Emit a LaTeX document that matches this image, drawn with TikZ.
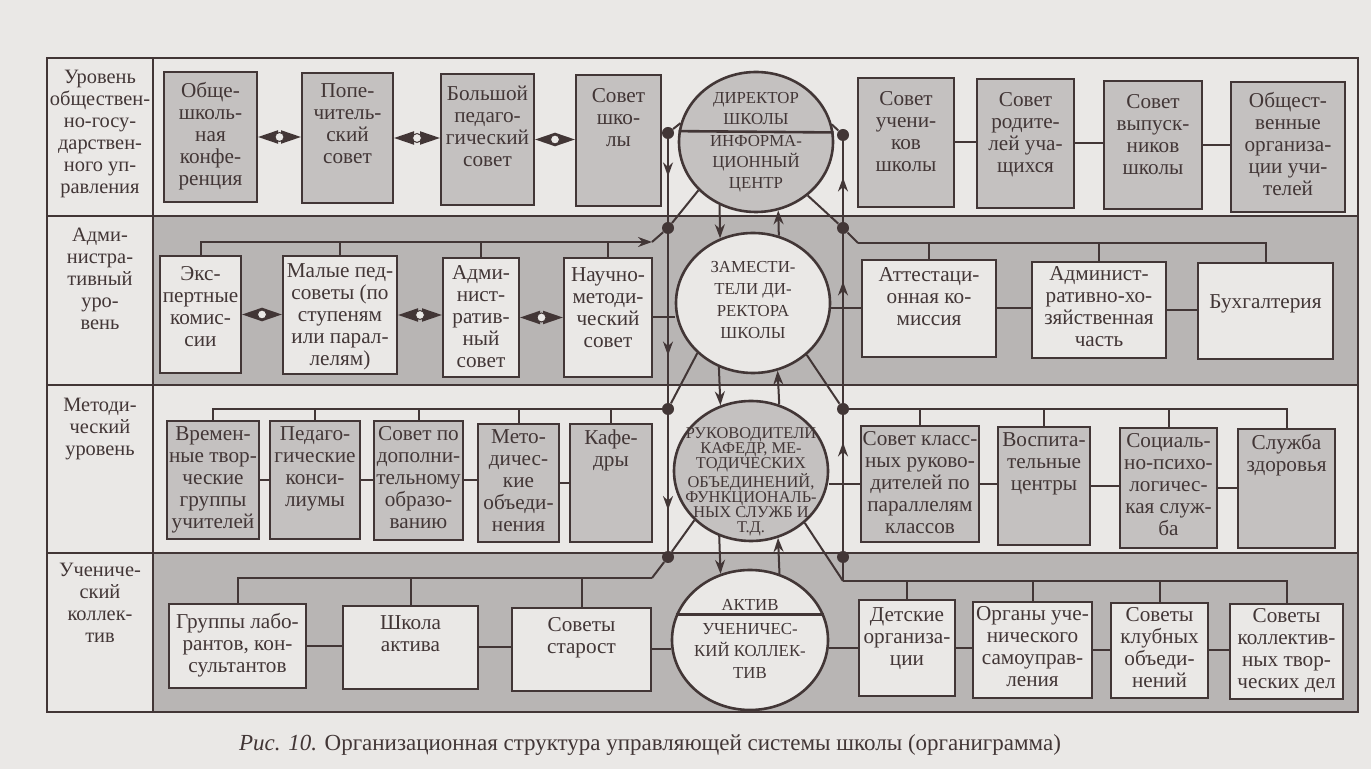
\documentclass[tikz,border=0pt]{standalone}
\usepackage{fontspec}
\setmainfont{Liberation Serif}
\usetikzlibrary{arrows.meta,decorations.markings,shapes.geometric}

\definecolor{paper}{RGB}{234,232,230}
\definecolor{band}{RGB}{184,181,180}
\definecolor{boxgray}{RGB}{196,193,192}
\definecolor{ink}{RGB}{66,54,54}

\begin{document}
\begin{tikzpicture}[x=0.5pt,y=-0.5pt,
	frm/.style={draw=ink,line width=1.1pt},
	gbox/.style={draw=ink,line width=1pt,fill=boxgray,inner sep=0pt},
	lbox/.style={draw=ink,line width=1pt,fill=paper,inner sep=0pt},
	sz/.style 2 args={minimum width=#1pt,minimum height=#2pt},
	intxt/.style={anchor=north,align=center,inner sep=4pt,text=ink,font=\fontsize{10.6}{11}\selectfont},
	lvl/.style={anchor=north,align=center,inner sep=0pt,text=ink,font=\fontsize{10.2}{11}\selectfont},
	ell/.style={ellipse,draw=ink,line width=1.3pt,inner sep=0pt,minimum width=77pt,minimum height=70pt},
	ctxt/.style={align=center,inner sep=0pt,text=ink,font=\fontsize{8.4}{10.5}\selectfont},
	jdot/.style={circle,fill=ink,inner sep=0pt,minimum size=6pt},
	con/.style={draw=ink,line width=1pt},
	arr/.style={-{Stealth[length=7pt,width=5pt]}},
	midarr/.style={postaction={decorate},decoration={markings,mark=at position #1 with {\arrow{Stealth[length=7pt,width=5pt]}}}},
	dbl/.style={draw=ink,line width=1pt,{Triangle[length=10pt,width=6.5pt]}-{Triangle[length=10pt,width=6.5pt]}},
	hub/.style={circle,draw=ink,fill=paper,line width=0.5pt,inner sep=0pt,minimum size=4.5pt},
	capt/.style={text=ink,inner sep=0pt,font=\fontsize{11.5}{13}\selectfont}]

	\useasboundingbox (0,0) rectangle (1371,769);
	\fill[paper] (0,0) rectangle (1371,769);

	% bands and grid
	\fill[band] (153,216) rectangle (1358,385);
	\fill[band] (153,553) rectangle (1358,712);
	\draw[frm] (47,58) rectangle (1358,712);
	\draw[frm] (153,58) -- (153,712);
	\draw[frm] (47,216) -- (1358,216);
	\draw[frm] (47,385) -- (1358,385);
	\draw[frm] (47,553) -- (1358,553);

	% level names
	\node[lvl] (lev1) at (100,70) {Уровень\\обществен-\\но-госу-\\дарствен-\\ного уп-\\равления};
	\node[lvl] (lev2) at (100,228) {Адми-\\нистра-\\тивный\\уро-\\вень};
	\node[lvl] (lev3) at (100,398) {Методи-\\ческий\\уровень};
	\node[lvl] (lev4) at (100,563) {Учениче-\\ский\\коллек-\\тив};

	% row 1
	\node[gbox,sz={46.5}{65},label={[intxt,inner sep=5.5pt]north:{Обще-\\школь-\\ная\\конфе-\\ренция}}] (obshk) at (210.5,137) {};
	\node[gbox,sz={45.5}{65},label={[intxt,inner sep=5.5pt]north:{Попе-\\читель-\\ский\\совет}}] (popech) at (347.5,138) {};
	\node[gbox,sz={46.5}{65.5},label={[intxt,inner sep=6.5pt]north:{Большой\\педаго-\\гический\\совет}}] (bpedsov) at (487.5,139.5) {};
	\node[gbox,sz={42.5}{65.5},label={[intxt,inner sep=7pt]north:{Совет\\шко-\\лы}}] (sovsh) at (618.5,140.5) {};
	\node[gbox,sz={48}{64.5},label={[intxt,inner sep=7pt]north:{Совет\\учени-\\ков\\школы}}] (sovuch) at (906,142.5) {};
	\node[gbox,sz={48.5}{64.5},label={[intxt,inner sep=7pt]north:{Совет\\родите-\\лей уча-\\щихся}}] (sovrod) at (1025.5,143.5) {};
	\node[gbox,sz={49}{64},label={[intxt,inner sep=7pt]north:{Совет\\выпуск-\\ников\\школы}}] (sovvyp) at (1153,145) {};
	\node[gbox,sz={57}{65},label={[intxt,inner sep=5.5pt]north:{Общест-\\венные\\организа-\\ции учи-\\телей}}] (obschorg) at (1288,147) {};

	% row 2
	\node[lbox,sz={40.5}{58.5},label={[intxt,inner sep=5.5pt]north:{Экс-\\пертные\\комис-\\сии}}] (ekspert) at (200.5,314.5) {};
	\node[lbox,sz={57}{59},label={[intxt]north:{Малые пед-\\советы (по\\ступеням\\или парал-\\лелям)}}] (maly) at (340,315) {};
	\node[lbox,sz={38}{59.5},label={[intxt]north:{Адми-\\нист-\\ратив-\\ный\\совет}}] (admsov) at (481,317.5) {};
	\node[lbox,sz={44}{59.5},label={[intxt,inner sep=5pt]north:{Научно-\\методи-\\ческий\\совет}}] (nauch) at (608,317.5) {};
	\node[lbox,sz={67}{48.5},label={[intxt]north:{Аттестаци-\\онная ко-\\миссия}}] (attest) at (929,308.5) {};
	\node[lbox,sz={67}{48},label={[intxt,inner sep=2.5pt]north:{Админист-\\ративно-хо-\\зяйственная\\часть}}] (admhoz) at (1099,310) {};
	\node[lbox,sz={67.5}{48},label={[intxt,yshift=-12pt]north:{Бухгалтерия}}] (buh) at (1265.5,311) {};

	% row 3
	\node[gbox,sz={46}{59},label={[intxt,inner sep=3pt]north:{Времен-\\ные твор-\\ческие\\группы\\учителей}}] (vrem) at (213,480) {};
	\node[gbox,sz={45}{59},label={[intxt,inner sep=3pt]north:{Педаго-\\гические\\конси-\\лиумы}}] (pedkons) at (315,480) {};
	\node[gbox,sz={44.5}{59.5},label={[intxt,inner sep=3pt]north:{Совет по\\дополни-\\тельному\\образо-\\ванию}}] (dopobr) at (418.5,480.5) {};
	\node[gbox,sz={40.5}{59},label={[intxt,inner sep=3pt]north:{Мето-\\дичес-\\кие\\объеди-\\нения}}] (metobj) at (518.5,483) {};
	\node[gbox,sz={41}{59},label={[intxt,inner sep=3pt]north:{Кафе-\\дры}}] (kafedry) at (611,483) {};
	\node[gbox,sz={59}{58},label={[intxt,inner sep=3pt]north:{Совет класс-\\ных руково-\\дителей по\\параллелям\\классов}}] (klass) at (920,484) {};
	\node[gbox,sz={46}{59},label={[intxt,inner sep=3pt]north:{Воспита-\\тельные\\центры}}] (vosp) at (1044,486) {};
	\node[gbox,sz={48.5}{60},label={[intxt,inner sep=3pt]north:{Социаль-\\но-психо-\\логичес-\\кая служ-\\ба}}] (socpsy) at (1168.5,488) {};
	\node[gbox,sz={48.5}{59.5},label={[intxt,inner sep=3pt]north:{Служба\\здоровья}}] (zdorov) at (1286.5,488.5) {};

	% row 4
	\node[lbox,sz={68.5}{42},label={[intxt,inner sep=5pt]north:{Группы лабо-\\рантов, кон-\\сультантов}}] (grlab) at (237.5,646) {};
	\node[lbox,sz={67.5}{41.5},label={[intxt,inner sep=5pt]north:{Школа\\актива}}] (shkakt) at (410.5,647.5) {};
	\node[lbox,sz={69.5}{41.5},label={[intxt,inner sep=5pt]north:{Советы\\старост}}] (starost) at (581.5,649.5) {};
	\node[lbox,sz={48}{48},label={[intxt]north:{Детские\\организа-\\ции}}] (detorg) at (907,648) {};
	\node[lbox,sz={59.5}{48},label={[intxt,inner sep=2.5pt]north:{Органы уче-\\нического\\самоуправ-\\ления}}] (organ) at (1032.5,650) {};
	\node[lbox,sz={48.5}{47.5},label={[intxt,inner sep=2.5pt]north:{Советы\\клубных\\объеди-\\нений}}] (klub) at (1159.5,650.5) {};
	\node[lbox,sz={56.5}{47.5},label={[intxt,inner sep=2.5pt]north:{Советы\\коллектив-\\ных твор-\\ческих дел}}] (kollekt) at (1286.5,651.5) {};

	% the four circles
	\node[ell,fill=boxgray] (dir) at (756,142) {};
	\node[ell,fill=paper] (zam) at (753,303) {};
	\node[ell,fill=boxgray] (ruk) at (751,471) {};
	\node[ell,fill=paper,minimum width=78pt] (aktiv) at (750,640) {};
	\draw[ink,line width=1.3pt] (dir.172.5) -- (dir.7.5);
	\draw[ink,line width=1.3pt] (aktiv.161) -- (aktiv.19);

	\node[ctxt] (dirtop) at (756,109) {ДИРЕКТОР\\ШКОЛЫ};
	\node[ctxt] (dirbot) at (756,164) {ИНФОРМА-\\ЦИОННЫЙ\\ЦЕНТР};
	\node[ctxt,font=\fontsize{8.4}{11}\selectfont] (zamtxt) at (753,300) {ЗАМЕСТИ-\\ТЕЛИ ДИ-\\РЕКТОРА\\ШКОЛЫ};
	\node[ctxt,font=\fontsize{8.2}{7.4}\selectfont] (ruktxt) at (751,482) {РУКОВОДИТЕЛИ\\КАФЕДР, МЕ-\\ТОДИЧЕСКИХ\\ОБЪЕДИНЕНИЙ,\\ФУНКЦИОНАЛЬ-\\НЫХ СЛУЖБ И\\Т.Д.};
	\node[ctxt] (akttop) at (750,605) {АКТИВ};
	\node[ctxt,font=\fontsize{8.4}{11}\selectfont] (aktbot) at (750,651) {УЧЕНИЧЕС-\\КИЙ КОЛЛЕК-\\ТИВ};

	% junction dots
	\node[jdot] (dot1l) at (668,133) {};
	\node[jdot] (dot1r) at (843,135) {};
	\node[jdot] (dot2l) at (668,228) {};
	\node[jdot] (dot2r) at (843,228) {};
	\node[jdot] (dot3l) at (668,409) {};
	\node[jdot] (dot3r) at (843,409) {};
	\node[jdot] (dot4l) at (668,557) {};
	\node[jdot] (dot4r) at (843,557) {};
	\coordinate (bus2l) at (652,242);
	\coordinate (bus2r) at (858,243);
	\coordinate (bus4l) at (652,578);
	\coordinate (bus4r) at (843,581);

	% double links
	\draw[dbl] (obshk.east) -- (obshk.east -| popech.west) node[midway,hub] {};
	\draw[dbl] (popech.east) -- (popech.east -| bpedsov.west) node[midway,hub] {};
	\draw[dbl] (bpedsov.east) -- (bpedsov.east -| sovsh.west) node[midway,hub] {};
	\draw[dbl] (ekspert.east) -- (ekspert.east -| maly.west) node[midway,hub] {};
	\draw[dbl] (maly.east) -- (maly.east -| admsov.west) node[midway,hub] {};
	\draw[dbl] (admsov.east) -- (admsov.east -| nauch.west) node[midway,hub] {};

	% plain links
	\draw[con] (sovuch.east) -- (sovuch.east -| sovrod.west);
	\draw[con] (sovrod.east) -- (sovrod.east -| sovvyp.west);
	\draw[con] (sovvyp.east) -- (sovvyp.east -| obschorg.west);
	\draw[con] (nauch.east) -- (nauch.east -| zam.west);
	\draw[con] (attest.west) -- (attest.west -| zam.east);
	\draw[con] (attest.east) -- (attest.east -| admhoz.west);
	\draw[con] (admhoz.east) -- (admhoz.east -| buh.west);
	\draw[con] (vrem.east) -- (vrem.east -| pedkons.west);
	\draw[con] (pedkons.east) -- (pedkons.east -| dopobr.west);
	\draw[con] (dopobr.east) -- (dopobr.east -| metobj.west);
	\draw[con] (metobj.east) -- (metobj.east -| kafedry.west);
	\draw[con] (klass.west) -- (klass.west -| ruk.east);
	\draw[con] (klass.east) -- (klass.east -| vosp.west);
	\draw[con] (vosp.east) -- (vosp.east -| socpsy.west);
	\draw[con] (socpsy.east) -- (socpsy.east -| zdorov.west);
	\draw[con] (grlab.east) -- (grlab.east -| shkakt.west);
	\draw[con] (shkakt.east) -- (shkakt.east -| starost.west);
	\draw[con] (starost.east) -- (starost.east -| aktiv.west);
	\draw[con] (detorg.west) -- (detorg.west -| aktiv.east);
	\draw[con] (detorg.east) -- (detorg.east -| organ.west);
	\draw[con] (organ.east) -- (organ.east -| klub.west);
	\draw[con] (klub.east) -- (klub.east -| kollekt.west);

	% buses
	\draw[con,arr] (ekspert.north) |- (bus2l);
	\draw[con] (maly.north) -- (maly.north |- bus2l);
	\draw[con] (admsov.north) -- (admsov.north |- bus2l);
	\draw[con] (nauch.north) -- (nauch.north |- bus2l);
	\draw[con] (bus2r) -| (buh.north);
	\draw[con] (attest.north) -- (attest.north |- bus2r);
	\draw[con] (admhoz.north) -- (admhoz.north |- bus2r);
	\draw[con] (dot3l) -| (vrem.north);
	\draw[con] (pedkons.north) -- (pedkons.north |- dot3l);
	\draw[con] (dopobr.north) -- (dopobr.north |- dot3l);
	\draw[con] (metobj.north) -- (metobj.north |- dot3l);
	\draw[con] (kafedry.north) -- (kafedry.north |- dot3l);
	\draw[con] (dot3r) -| (zdorov.north);
	\draw[con] (klass.north) -- (klass.north |- dot3r);
	\draw[con] (vosp.north) -- (vosp.north |- dot3r);
	\draw[con] (socpsy.north) -- (socpsy.north |- dot3r);
	\draw[con] (grlab.north) |- (bus4l);
	\draw[con] (shkakt.north) -- (shkakt.north |- bus4l);
	\draw[con] (starost.north) -- (starost.north |- bus4l);
	\draw[con] (bus4r) -| (kollekt.north);
	\draw[con] (detorg.north) -- (detorg.north |- bus4r);
	\draw[con] (organ.north) -- (organ.north |- bus4r);
	\draw[con] (klub.north) -- (klub.north |- bus4r);

	% verticals and diagonals
	\draw[con] (dot1l) -- (dir.166);
	\draw[con] (dir.13) -- (dot1r);
	\draw[con,midarr=0.45] (dot1l) -- (dot2l);
	\draw[con,midarr=0.72] (dot2l) -- (dot3l);
	\draw[con,midarr=0.7] (dot3l) -- (dot4l);
	\draw[con,midarr=0.55] (dot2r) -- (dot1r);
	\draw[con,midarr=0.72] (dot3r) -- (dot2r);
	\draw[con,midarr=0.8] (dot4r) -- (dot3r);
	\draw[con] (dir.220) -- (dot2l) -- (bus2l);
	\draw[con] (dir.314) -- (dot2r) -- (bus2r);
	\draw[con] (zam.222) -- (dot3l);
	\draw[con] (zam.316) -- (dot3r);
	\draw[con] (ruk.221) -- (dot4l) -- (bus4l);
	\draw[con] (ruk.316) -- (bus4r);
	\draw[con] (dot4r) -- (bus4r);

	% circle to circle
	\draw[con,arr] (dir.240) -- (zam.117.6);
	\draw[con,arr] (zam.69.3) -- (dir.288.2);
	\draw[con,arr] (zam.242.4) -- (ruk.115.8);
	\draw[con,arr] (ruk.67.6) -- (zam.290.7);
	\draw[con,arr] (ruk.244.2) -- (aktiv.114.9);
	\draw[con,arr] (aktiv.66.8) -- (ruk.292.4);

	% caption
	\node[capt] (caption) at (650,745) {\textit{Рис. 10.} Организационная структура управляющей системы школы (органиграмма)};
\end{tikzpicture}
\end{document}
